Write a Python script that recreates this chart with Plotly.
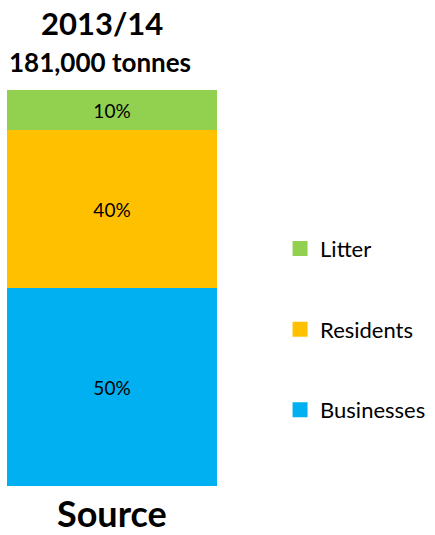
import plotly.graph_objects as go

# Waste by source, 2013/14 (share of 181,000 tonnes)
category = ["2013/14"]
sources = ["Businesses", "Residents", "Litter"]
shares = [50, 40, 10]
colors = ["#00B0F0", "#FFC000", "#92D050"]

FONT = "Lato, 'Open Sans', sans-serif"

fig = go.Figure()
# stacked bar segments, bottom to top
for name, val, col in zip(sources, shares, colors):
    fig.add_trace(go.Bar(
        x=category, y=[val], name=name,
        marker=dict(color=col, line=dict(width=0)),
        text=[f"{val}%"], textposition="inside", insidetextanchor="middle",
        textfont=dict(size=19, color="#000000", family=FONT),
        width=1, showlegend=False,
    ))

# legend entries with square swatches, top to bottom
for name, col in zip(reversed(sources), reversed(colors)):
    fig.add_trace(go.Scatter(
        x=[None], y=[None], mode="markers", name=name,
        marker=dict(symbol="square", size=15, color=col),
        legendgroup=name, showlegend=True,
    ))

bar_w = 210 / 428
center_x = bar_w / 2

fig.update_layout(
    width=435, height=535,
    margin=dict(l=7, r=0, t=90, b=49, autoexpand=False),
    barmode="stack", bargap=0,
    plot_bgcolor="white", paper_bgcolor="white",
    font=dict(family=FONT, color="#000000"),
    xaxis=dict(domain=[0, bar_w], range=[-0.5, 0.5], visible=False),
    yaxis=dict(range=[0, 100], visible=False),
    showlegend=True,
    legend=dict(
        x=0.638, xanchor="left", y=0.652, yanchor="top",
        traceorder="grouped", tracegroupgap=49,
        font=dict(size=22, family=FONT), itemwidth=30,
        bgcolor="rgba(0,0,0,0)",
    ),
    annotations=[
        dict(text="<b>2013/14</b>", xref="paper", yref="paper",
             x=center_x - 0.024, y=1, yshift=67, showarrow=False,
             font=dict(size=31, family=FONT), xanchor="center", yanchor="middle"),
        dict(text="<b>181,000 tonnes</b>", xref="paper", yref="paper",
             x=center_x - 0.028, y=1, yshift=28, showarrow=False,
             font=dict(size=26, family=FONT), xanchor="center", yanchor="middle"),
        dict(text="<b>Source</b>", xref="paper", yref="paper",
             x=center_x, y=0, yshift=-27, showarrow=False,
             font=dict(size=36, family=FONT), xanchor="center", yanchor="middle"),
    ],
)

fig.write_html("out.html")
